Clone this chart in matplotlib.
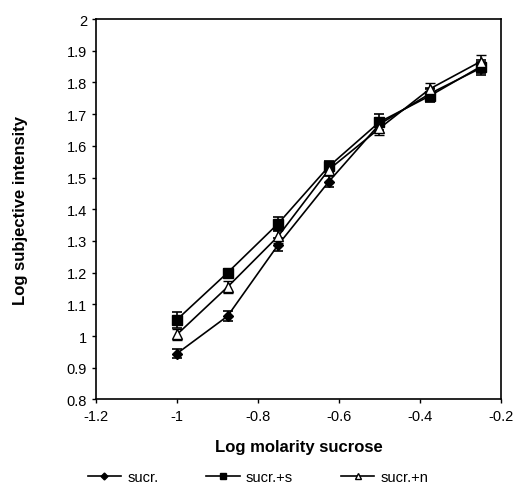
import matplotlib
matplotlib.use("Agg")
import matplotlib.pyplot as plt

log_molarity = [-1.0, -0.875, -0.75, -0.625, -0.5, -0.375, -0.25]

sucr = [0.945, 1.063, 1.288, 1.487, 1.668, 1.765, 1.845]
sucr_err = [0.015, 0.015, 0.02, 0.018, 0.02, 0.018, 0.02]

sucr_s = [1.052, 1.200, 1.355, 1.535, 1.675, 1.758, 1.850]
sucr_s_err = [0.025, 0.012, 0.022, 0.018, 0.025, 0.02, 0.02]

sucr_n = [1.005, 1.155, 1.315, 1.525, 1.655, 1.780, 1.866]
sucr_n_err = [0.018, 0.02, 0.02, 0.018, 0.02, 0.018, 0.022]

plt.rcParams['font.family'] = ['Liberation Sans', 'DejaVu Sans']

fig = plt.figure(figsize=(5.19, 4.89), dpi=100)
ax = fig.add_axes([0.185, 0.181, 0.780, 0.778])

common = dict(color='black', lw=1.2, capsize=3.5, elinewidth=1.2, capthick=1.2)
ax.errorbar(log_molarity, sucr, yerr=sucr_err, marker='D', ms=5,
            mfc='black', mec='black', label='sucr.', **common)
ax.errorbar(log_molarity, sucr_s, yerr=sucr_s_err, marker='s', ms=6.5,
            mfc='black', mec='black', label='sucr.+s', **common)
ax.errorbar(log_molarity, sucr_n, yerr=sucr_n_err, marker='^', ms=7,
            mfc='white', mec='black', mew=1.0, label='sucr.+n', **common)

ax.set_xlim(-1.2, -0.2)
ax.set_ylim(0.8, 2.0)
ax.set_xticks([-1.2, -1.0, -0.8, -0.6, -0.4, -0.2])
ax.set_xticklabels(['-1.2', '-1', '-0.8', '-0.6', '-0.4', '-0.2'])
ax.set_yticks([0.8, 0.9, 1.0, 1.1, 1.2, 1.3, 1.4, 1.5, 1.6, 1.7, 1.8, 1.9, 2.0])
ax.set_yticklabels(['0.8', '0.9', '1', '1.1', '1.2', '1.3', '1.4', '1.5',
                    '1.6', '1.7', '1.8', '1.9', '2'])
ax.tick_params(labelsize=10.5, length=3, width=1)
for s in ax.spines.values():
    s.set_linewidth(1.2)

ax.set_xlabel('Log molarity sucrose', fontsize=12, fontweight='bold', labelpad=12)
ax.set_ylabel('Log subjective intensity', fontsize=12, fontweight='bold', labelpad=28)

# legend shows only line + marker, no error bar caps
handles, labels = ax.get_legend_handles_labels()
handles = [h[0] for h in handles]
fig.legend(handles, labels, loc='center', bbox_to_anchor=(0.497, 0.022), ncol=3,
           frameon=False, fontsize=10.5, handlelength=2.3, columnspacing=3.3,
           handletextpad=0.4, markerscale=0.7)

fig.savefig('out.png', dpi=100)
